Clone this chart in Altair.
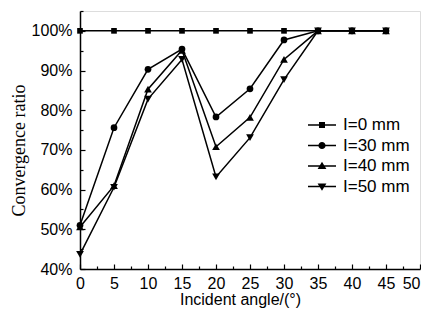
import altair as alt
import pandas as pd

angles = [0, 5, 10, 15, 20, 25, 30, 35, 40, 45]
series_names = ["I=0 mm", "I=30 mm", "I=40 mm", "I=50 mm"]
ratio_0 = [100, 100, 100, 100, 100, 100, 100, 100, 100, 100]
ratio_30 = [51.0, 75.6, 90.3, 95.4, 78.3, 85.4, 97.7, 100, 100, 100]
ratio_40 = [50.6, 61.0, 85.3, 95.1, 70.8, 78.2, 92.8, 100, 100, 100]
ratio_50 = [43.7, 60.6, 82.8, 92.8, 63.2, 73.1, 87.7, 100, 100, 100]

x_major = [0, 5, 10, 15, 20, 25, 30, 35, 40, 45, 50]
x_minor = [2.5, 7.5, 12.5, 17.5, 22.5, 27.5, 32.5, 37.5, 42.5, 47.5]
y_major = [40, 50, 60, 70, 80, 90, 100]
y_minor = [45, 55, 65, 75, 85, 95, 105]

rows = []
for name, vals in zip(series_names, [ratio_0, ratio_30, ratio_40, ratio_50]):
    for a, v in zip(angles, vals):
        rows.append({"angle": a, "ratio": v, "series": name})
df = pd.DataFrame(rows)

SANS = "Liberation Sans"
SERIF = "Liberation Serif"

xscale = alt.Scale(domain=[0, 50], nice=False, zero=False)
yscale = alt.Scale(domain=[40, 105], nice=False, zero=False)

major_x_axis = alt.Axis(
    orient="bottom", values=x_major, labelFont=SANS, labelFontSize=16,
    labelColor="black", tickColor="black", domainColor="black",
    tickSize={"expr": "-5"}, labelPadding=11, domainWidth=1.5, tickWidth=1.2,
    labelAlign={"condition": {"test": "datum.value == 50", "value": "right"}, "value": "center"},
    title="Incident angle/(°)", titleFont=SANS, titleFontSize=16,
    titleFontWeight="normal", titleColor="black", titleX=160, titleY=30,
    titleBaseline="middle", titleAlign="center", grid=False, labelFlush=False,
)
major_y_axis = alt.Axis(
    orient="left", values=y_major, labelFont=SANS, labelFontSize=16,
    labelColor="black", tickColor="black", domainColor="black",
    tickSize={"expr": "-5"}, labelPadding=13, domainWidth=1.5, tickWidth=1.2,
    labelExpr="datum.value + '%'",
    title="Convergence ratio", titleFont=SERIF, titleFontSize=18,
    titleFontWeight="normal", titleColor="black", titleX=-61, titleY=139,
    titleBaseline="middle", titleAlign="center", titleAngle=270,
    grid=False, labelFlush=False,
)
minor_x_axis = alt.Axis(
    orient="bottom", values=x_minor, labels=False, domain=False,
    tickColor="black", tickSize={"expr": "-3"}, tickWidth=1.2,
    title=None, grid=False,
)
minor_y_axis = alt.Axis(
    orient="left", values=y_minor, labels=False, domain=False,
    tickColor="black", tickSize={"expr": "-3"}, tickWidth=1.2,
    title=None, grid=False,
)

lines = alt.Chart(df).mark_line(color="black", strokeWidth=1.5).encode(
    x=alt.X("angle:Q", scale=xscale, axis=major_x_axis),
    y=alt.Y("ratio:Q", scale=yscale, axis=major_y_axis),
    detail="series:N",
)

marker_shapes = ["square", "circle", "triangle-up", "triangle-down"]
marker_sizes = [32, 45, 60, 60]
point_layers = []
for i, (name, shp, sz) in enumerate(zip(series_names, marker_shapes, marker_sizes)):
    axis_x = minor_x_axis if i == 0 else None
    axis_y = minor_y_axis if i == 0 else None
    point_layers.append(
        alt.Chart(df).transform_filter(alt.datum.series == name)
        .mark_point(filled=True, color="black", opacity=1, shape=shp, size=sz)
        .encode(
            x=alt.X("angle:Q", scale=xscale, axis=axis_x),
            y=alt.Y("ratio:Q", scale=yscale, axis=axis_y),
        )
    )

bar = "M-1.4,-0.075L1.4,-0.075L1.4,0.075L-1.4,0.075Z"
legend_paths = [
    bar + "M-0.3,-0.3L0.3,-0.3L0.3,0.3L-0.3,0.3Z",
    bar + "M-0.36,0A0.36,0.36 0 1,1 0.36,0A0.36,0.36 0 1,1 -0.36,0Z",
    bar + "M0,-0.42L0.44,0.3L-0.44,0.3Z",
    bar + "M0,0.42L-0.44,-0.3L0.44,-0.3Z",
]
legend_layer = alt.Chart(df).mark_point(filled=True, color="black", size=0).encode(
    x=alt.X("angle:Q", scale=xscale, axis=None),
    y=alt.Y("ratio:Q", scale=yscale, axis=None),
    shape=alt.Shape(
        "series:N",
        scale=alt.Scale(domain=series_names, range=legend_paths),
        legend=alt.Legend(
            title=None, orient="none", legendX=232, legendY=104,
            symbolSize=400, symbolFillColor="black",
            symbolStrokeWidth=0, symbolOpacity=1, labelFont=SANS,
            labelFontSize=17, labelColor="black", labelOffset=11,
            rowPadding=2.5, padding=0, labelLimit=200,
        ),
    ),
)

chart = alt.layer(lines, *point_layers, legend_layer).resolve_axis(
    x="independent", y="independent"
).properties(
    width=340, height=258,
    autosize=alt.AutoSizeParams(type="none"),
    padding={"left": 72, "top": 3, "right": 1, "bottom": 39},
).configure_view(stroke=None).configure(background="white")

chart.save("out.html", embed_options={"renderer": "svg", "actions": False})
